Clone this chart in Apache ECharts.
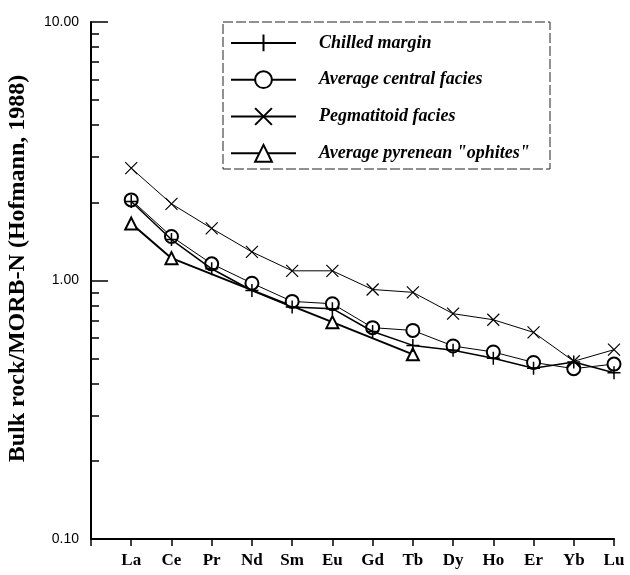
<!DOCTYPE html>
<html>
  <head>
    <meta charset="UTF-8">
    <title>REE pattern</title>
    <script src="https://cdn.jsdelivr.net/npm/echarts@6/dist/echarts.min.js"></script>
    <style type="text/css">
      * {margin: 0; padding: 0;}
      body {background: #fff;}
    </style>
  </head>
  <body>
    <div id="chart" style="width:630px;height:575px"></div>

    <script type="text/javascript">
      // rare earth elements along the x axis
      var categories = ['La', 'Ce', 'Pr', 'Nd', 'Sm', 'Eu', 'Gd', 'Tb', 'Dy', 'Ho', 'Er', 'Yb', 'Lu'];

      // normalised values (null = not analysed)
      var chilledMargin = [2.02, 1.44, 1.11, 0.915, 0.789, 0.778, 0.635, 0.561, 0.537, 0.50, 0.458, 0.484, 0.44];
      var centralFacies = [2.05, 1.48, 1.16, 0.976, 0.83, 0.813, 0.657, 0.641, 0.558, 0.529, 0.482, 0.456, 0.475];
      var pegmatitoid = [2.72, 1.98, 1.59, 1.29, 1.09, 1.09, 0.923, 0.90, 0.744, 0.705, 0.63, 0.487, 0.54];
      var ophites = [1.66, 1.22, null, null, null, 0.69, null, 0.518];

      var yTicks = [0.1, 1, 10];
      var yMinorTicks = [0.2, 0.3, 0.4, 0.5, 0.6, 0.7, 0.8, 0.9, 2, 3, 4, 5, 6, 7, 8, 9];

      function toPoints(arr) {
        var res = [];
        for (var i = 0; i < arr.length; i++) {
          res.push([i + 1, arr[i] == null ? '-' : arr[i]]);
        }
        return res;
      }

      var PLUS = 'path://M5,0L5,10M0,5L10,5';
      var CROSS = 'path://M0,0L10,10M0,10L10,0';

      var chart = echarts.init(document.getElementById('chart'));

      var option = {
        animation: false,
        grid: {left: 91, right: 16, top: 22, bottom: 36, outerBoundsMode: 'none'},
        legend: {
          orient: 'vertical',
          left: 230,
          top: 32,
          padding: 0,
          itemWidth: 65,
          itemHeight: 21,
          itemGap: 16.5,
          textStyle: {
            fontFamily: 'Liberation Serif',
            fontStyle: 'italic',
            fontWeight: 'bold',
            fontSize: 18,
            color: '#000',
            padding: [0, 0, 0, 18]
          },
          data: ['Chilled margin', 'Average central facies', 'Pegmatitoid facies', 'Average pyrenean "ophites"']
        },
        graphic: [{
          type: 'rect',
          shape: {x: 223, y: 22, width: 327, height: 147},
          style: {fill: 'none', stroke: '#222', lineWidth: 1, lineDash: [10, 3]},
          silent: true
        }],
        xAxis: {
          type: 'value',
          min: 0,
          max: 13,
          interval: 1,
          splitLine: {show: false},
          axisLine: {lineStyle: {color: '#000', width: 2}},
          axisTick: {inside: false, length: 7, lineStyle: {color: '#000', width: 1.5}},
          axisLabel: {
            margin: 13,
            fontFamily: 'Liberation Serif',
            fontWeight: 'bold',
            fontSize: 17,
            color: '#000',
            formatter: function (v) { return categories[v - 1] || ''; }
          }
        },
        yAxis: [{
          type: 'log',
          logBase: 10,
          min: 0.1,
          max: 10,
          name: 'Bulk rock/MORB-N (Hofmann, 1988)',
          nameLocation: 'middle',
          nameGap: 61,
          nameTextStyle: {
            fontFamily: 'Liberation Serif',
            fontWeight: 'bold',
            fontSize: 24,
            color: '#000',
            padding: [0, 0, 0, 24]
          },
          splitLine: {show: false},
          axisLine: {lineStyle: {color: '#000', width: 2}},
          axisTick: {inside: true, length: 17, customValues: yTicks, lineStyle: {color: '#000', width: 1.5}},
          axisLabel: {
            customValues: yTicks,
            margin: 12,
            fontFamily: 'Liberation Sans',
            fontSize: 14,
            color: '#000',
            formatter: function (v) { return v.toFixed(2); }
          }
        }, {
          type: 'log',
          logBase: 10,
          min: 0.1,
          max: 10,
          position: 'left',
          splitLine: {show: false},
          axisLine: {show: false},
          axisTick: {inside: true, length: 8, customValues: yMinorTicks, lineStyle: {color: '#000', width: 1.5}},
          axisLabel: {show: false}
        }],
        series: [
          {
            name: 'Chilled margin',
            type: 'line',
            data: toPoints(chilledMargin),
            symbol: PLUS,
            symbolSize: 13,
            itemStyle: {color: 'none', borderColor: '#000', borderWidth: 1.5},
            lineStyle: {color: '#000', width: 1.5},
            z: 3
          },
          {
            name: 'Average central facies',
            type: 'line',
            data: toPoints(centralFacies),
            symbol: 'emptyCircle',
            symbolSize: 13,
            showAllSymbol: true,
            itemStyle: {color: '#000', borderWidth: 1.2},
            lineStyle: {color: '#000', width: 1},
            z: 2
          },
          {
            name: 'Pegmatitoid facies',
            type: 'line',
            data: toPoints(pegmatitoid),
            symbol: CROSS,
            symbolSize: 12,
            itemStyle: {color: 'none', borderColor: '#000', borderWidth: 1.2},
            lineStyle: {color: '#000', width: 1},
            z: 2
          },
          {
            name: 'Average pyrenean "ophites"',
            type: 'line',
            data: toPoints(ophites),
            connectNulls: true,
            symbol: 'emptyTriangle',
            symbolSize: 12,
            itemStyle: {color: '#000', borderWidth: 1.2},
            lineStyle: {color: '#000', width: 2},
            z: 2
          }
        ]
      };

      chart.setOption(option);
    </script>
  </body>
</html>
